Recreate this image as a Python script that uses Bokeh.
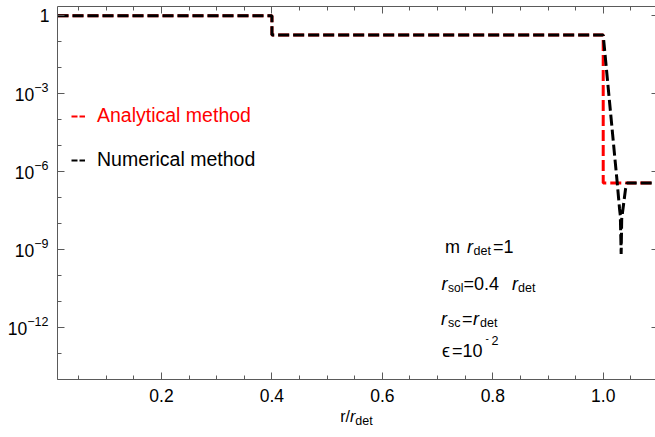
import math
from bokeh.plotting import figure
from bokeh.models import (FixedTicker, LinearAxis, LogAxis, Label, Legend, LegendItem,
                          CustomJSTickFormatter, Range1d)
from bokeh.embed import file_html
from bokeh.resources import INLINE

# ---- profile data: r / r_det versus field amplitude ----
r_analytical = [0.0116, 0.4, 0.4, 1.0, 1.0, 1.0947]
f_analytical = [1.0, 1.0, 0.18, 0.18, 3.6e-7, 3.6e-7]

r_numerical = [0.0116, 0.4, 0.4, 1.0, 1.0254, 1.0296, 1.031, 1.0325, 1.0335, 1.0404, 1.043, 1.0947]
f_numerical = [1.0, 1.0, 0.18, 0.18, 3.6e-7, 3.6e-8, 2.0e-8, 6.6e-10, 1.5e-8, 2.1e-7, 3.6e-7, 3.6e-7]

# ---- ticks ----
x_major = [0.2, 0.4, 0.6, 0.8, 1.0]
x_labels = ["0.2", "0.4", "0.6", "0.8", "1.0"]
x_minor = [0.05, 0.1, 0.15, 0.25, 0.3, 0.35, 0.45, 0.5, 0.55, 0.65, 0.7, 0.75,
           0.85, 0.9, 0.95, 1.05]
y_exponents = [0, -3, -6, -9, -12]
y_major = [1.0, 1e-3, 1e-6, 1e-9, 1e-12]
y_minor = [1.0, 1e-1, 1e-2, 1e-3, 1e-4, 1e-5, 1e-6, 1e-7, 1e-8, 1e-9, 1e-10,
           1e-11, 1e-12, 1e-13, 1e-14]

# ---- layout: the plotting box sits inside a full-canvas frame ----
W, H = 655, 437
FL, FR, FT, FB = 57, 655, 6, 379          # box edges in canvas pixels
X_LO, X_HI = 0.0116, 1.0947
LOG_LO, LOG_HI = -14.015, 0.358
PPD = (FB - FT) / (LOG_HI - LOG_LO)       # pixels per decade
KX = (X_HI - X_LO) / (FR - FL)            # data units per pixel

FONT = "Liberation Sans, Arial, Helvetica, sans-serif"
AXIS_GRAY = "#5a5a5a"

# Arial advance widths (1/1000 em) for glyphs used in stacked labels
ADV = {"−": 584, "-": 333, "0": 556, "1": 556, "2": 556, "3": 556, "6": 556, "9": 556,
       "r": 333, "/": 278, "d": 556, "e": 556, "t": 278}


def text_width(s, size):
    return sum(ADV.get(c, 556) for c in s) * size / 1000.0


def px_x(px):
    return X_LO + (px - FL) * KX


def px_y(py):
    return 10 ** (LOG_HI - (py - FT) / PPD)


p = figure(width=W, height=H, y_axis_type="log",
           x_range=Range1d(px_x(0), px_x(W)), y_range=Range1d(px_y(H), px_y(0)),
           x_axis_location=None, y_axis_location=None,
           output_backend="svg", toolbar_location=None, min_border=0)
p.grid.visible = False
p.background_fill_color = "white"
p.border_fill_color = "white"
p.outline_line_color = None

blank = CustomJSTickFormatter(code="return ''")
XB = (X_LO, X_HI)
YB = (10 ** LOG_LO, 10 ** LOG_HI)


def style_axis(ax, tick_in, minor_in, labels=False):
    ax.axis_line_color = AXIS_GRAY
    ax.major_tick_line_color = AXIS_GRAY
    ax.minor_tick_line_color = AXIS_GRAY
    ax.major_tick_in = tick_in
    ax.major_tick_out = 0
    ax.minor_tick_in = minor_in
    ax.minor_tick_out = 0
    if not labels:
        ax.formatter = blank
        ax.major_label_text_font_size = "0px"
        ax.major_label_standoff = 0


# bottom axis with numeric labels
bottom = LinearAxis(ticker=FixedTicker(ticks=x_major, minor_ticks=x_minor),
                    fixed_location=10 ** LOG_LO, bounds=XB)
style_axis(bottom, 7, 4, labels=True)
bottom.major_label_overrides = dict(zip(x_major, x_labels))
bottom.major_label_text_font = FONT
bottom.major_label_text_font_size = "17.5px"
bottom.major_label_text_color = "black"
bottom.major_label_standoff = 9
p.add_layout(bottom, "below")

top = LinearAxis(ticker=FixedTicker(ticks=x_major, minor_ticks=x_minor),
                 fixed_location=10 ** LOG_HI, bounds=XB)
style_axis(top, 7, 4)
p.add_layout(top, "above")

left = LogAxis(ticker=FixedTicker(ticks=y_major, minor_ticks=y_minor),
               fixed_location=X_LO, bounds=YB)
style_axis(left, 7, 4)
p.add_layout(left, "left")

right = LogAxis(ticker=FixedTicker(ticks=y_major, minor_ticks=[]),
                fixed_location=X_HI, bounds=YB)
style_axis(right, 4, 0)
p.add_layout(right, "right")

# ---- curves ----
DASH = "11 4"
p.line(r_analytical, f_analytical, line_color="#ff0000", line_width=3, line_dash=DASH)
p.line(r_numerical, f_numerical, line_color="black", line_width=3, line_dash=DASH)

# legend swatches (short double dash); they hold no visible data
sw_a = p.line([math.nan], [math.nan], line_color="#ff0000", line_width=2, line_dash="6 2")
sw_n = p.line([math.nan], [math.nan], line_color="black", line_width=2, line_dash="6 2")


def make_legend(label, rend, color, bottom_px):
    lg = Legend(items=[LegendItem(label=label, renderers=[rend])],
                location=(71, H - bottom_px),
                padding=0, margin=0, spacing=0,
                glyph_width=14, glyph_height=20, label_height=20, label_standoff=12,
                label_text_font=FONT, label_text_font_size="19.5px",
                label_text_color=color,
                border_line_alpha=0, background_fill_alpha=0)
    p.add_layout(lg, "center")


make_legend("Analytical method", sw_a, "#ff0000", 127)
make_legend("Numerical method", sw_n, "black", 171)


# ---- text helpers ----
def put(text, px, py, size, style="normal", align="left", baseline="alphabetic"):
    p.add_layout(Label(x=px_x(px), y=px_y(py), text=text,
                       text_font=FONT, text_font_size=f"{size}px",
                       text_font_style=style, text_color="black",
                       text_align=align, text_baseline=baseline))


# y tick labels: 1, 10^-3, ...
TICK_SIZE, SUP_SIZE = 17.5, 12.5
for e in y_exponents:
    py = FT + (LOG_HI - e) * PPD
    if e == 0:
        put("1", 49, py, TICK_SIZE, align="right", baseline="middle")
    else:
        sup = "−" + str(-e)
        wsup = text_width(sup, SUP_SIZE)
        put("10", 48 - wsup, py + 1, TICK_SIZE, align="right", baseline="middle")
        put(sup, 48, py - 6, SUP_SIZE, align="right", baseline="middle")

# x axis title r/r_det
AX_MAIN, AX_SUB = 16, 12.5
parts = [("r/", "normal", AX_MAIN, 0), ("r", "italic", AX_MAIN, 0), ("det", "normal", AX_SUB, 4)]
total = sum(text_width(t, s) for t, _, s, _ in parts)
cx = (FL + FR) / 2 - total / 2
for t, st, s, dy in parts:
    put(t, cx, 416 + dy, s, style=st)
    cx += text_width(t, s)

# parameter block
MAIN, SUB = 18, 12.5
put("m", 444.5, 246.7, MAIN)
put("r", 466.5, 246.7, MAIN, "italic")
put("det", 473, 250.7, SUB)
put("=1", 492.5, 246.7, MAIN)

put("r", 441, 283, MAIN, "italic")
put("sol", 447.5, 287, 12)
put("=0.4", 463, 283, MAIN)
put("r", 511.5, 283, MAIN, "italic")
put("det", 517.5, 287, SUB)

put("r", 440.5, 318, MAIN, "italic")
put("sc", 447.5, 322, SUB)
put("=", 461.5, 318, MAIN)
put("r", 472.5, 318, MAIN, "italic")
put("det", 479.5, 322, SUB)

put("ϵ", 441.5, 350, MAIN)
put("=10", 451.5, 350, MAIN)
put("-", 485, 337, 10)
put("2", 491, 340, SUP_SIZE)

open("out.html", "w").write(file_html(p, INLINE))
